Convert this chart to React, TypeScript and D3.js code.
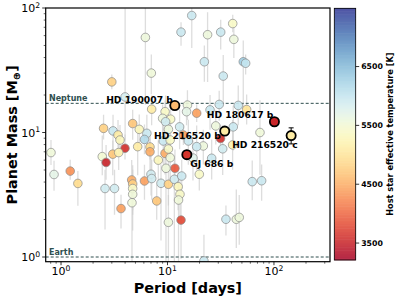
import React from "react";
import * as d3 from "d3";

// orbital period [days], minimum mass [M_earth], host Teff [K]
const period = [16.9, 13.4, 6.2, 23.8, 31.6, 41, 42, 22.2, 51.5, 54.2, 33.4, 7.05, 3.0, 4.0, 7.1, 9.5, 9.0, 10.7, 9.6, 15.4, 15.1, 18.8, 25.1, 30.6, 46.2, 55.4, 31.5, 73.9, 28.4, 41.5, 14.1, 15.7, 21.7, 33.0, 40.9, 13.0, 10.2, 6.4, 6.85, 18.8, 2.51, 4.71, 3.08, 3.43, 5.43, 3.58, 6.08, 3.99, 0.805, 0.86, 1.22, 1.44, 2.44, 2.65, 3.06, 3.48, 5.25, 2.59, 3.18, 4.61, 4.71, 4.71, 4.71, 4.64, 3.66, 6.08, 6.85, 8.2, 9.48, 10.2, 10.6, 11.75, 9.68, 7.0, 7.11, 8.69, 10.2, 11.6, 13.6, 12.6, 13.1, 12.7, 7.92, 19.9, 26.0, 17.35, 62.5, 76.6, 35.4, 44.3, 47.2, 22.0, 10.2, 13.4, 9.13, 10.6];
const mass = [87, 64, 58, 61, 64, 75, 56, 37, 37, 36, 28.4, 30, 25.5, 19.3, 15.4, 14.7, 13.0, 12.8, 12.2, 16.6, 14.7, 14.3, 15.2, 16.8, 16.5, 15.3, 8.95, 10.0, 11.3, 11.1, 9.55, 8.55, 7.8, 7.4, 7.95, 11.1, 10.6, 9.85, 7.65, 7.7, 10.8, 11.8, 10.3, 9.55, 10.6, 8.7, 8.8, 7.47, 6.9, 4.6, 4.9, 3.9, 6.4, 5.75, 6.7, 6.9, 7.7, 3.55, 3.55, 4.16, 3.86, 3.55, 3.19, 2.73, 2.45, 4.08, 7.0, 6.0, 6.8, 7.37, 6.28, 5.16, 5.16, 4.62, 4.27, 3.91, 3.84, 4.21, 4.47, 3.67, 3.19, 2.87, 2.82, 4.62, 6.21, 6.24, 4.03, 4.10, 2.01, 2.01, 2.08, 0.93, 1.90, 1.98, 8.55, 8.71];
const teff = [5950, 5950, 5580, 5580, 5950, 5400, 5580, 5950, 6300, 6000, 5950, 5550, 4800, 5850, 5100, 5400, 5580, 5400, 5900, 5580, 5700, 4400, 5950, 5950, 5950, 5000, 3600, 5550, 5580, 5950, 4400, 5950, 5580, 5900, 5200, 5900, 5580, 5950, 4900, 5950, 4800, 4700, 5950, 5100, 5300, 5300, 6150, 3600, 5550, 5700, 4300, 4900, 5500, 3500, 4700, 5200, 5100, 5900, 5900, 4500, 4800, 5400, 5550, 5550, 4400, 4400, 4500, 5300, 4500, 5400, 5550, 3900, 5580, 5900, 5900, 5900, 4800, 5900, 5950, 5300, 5400, 5550, 4700, 5400, 5950, 5750, 5950, 5950, 5950, 5580, 5580, 5950, 5580, 3800, 5950, 5400];
// mass uncertainties in dex (upper / lower)
const errUpDex = [0.06, 0.08, 0.24, 0.18, 0.10, 0.07, 0.11, 0.13, 0.17, 0.07, 0.17, 0.15, 0.06, 0.71, 0.11, 0.09, 0.11, 0.16, 0.21, 0.12, 0.09, 0.07, 0.12, 0.11, 0.16, 0.12, 0.11, 0.26, 0.13, 0.17, 0.08, 0.17, 0.13, 0.19, 0.20, 0.14, 0.16, 0.15, 0.10, 0.17, 0.11, 0.11, 0.13, 0.12, 0.12, 0.12, 0.12, 0.11, 0.10, 0.11, 0.09, 0.10, 0.17, 0.14, 0.11, 0.14, 0.17, 0.15, 0.15, 0.16, 0.15, 0.15, 0.11, 0.18, 0.11, 0.13, 0.13, 0.16, 0.15, 0.15, 0.14, 0.15, 0.19, 0.16, 0.15, 0.15, 0.16, 0.16, 0.13, 0.13, 0.16, 0.16, 0.13, 0.11, 0.15, 0.14, 0.17, 0.13, 0.11, 0.24, 0.18, 0.21, 0.22, 0.16, 0.17, 0.16];
const errDownDex = [0.26, 0.11, 0.54, 0.38, 0.14, 0.07, 0.15, 0.16, 0.39, 0.09, 0.23, 0.17, 0.06, 0.35, 0.13, 0.11, 0.13, 0.17, 0.23, 0.12, 0.11, 0.07, 0.16, 0.13, 0.16, 0.12, 0.09, 0.34, 0.15, 0.19, 0.08, 0.19, 0.15, 0.21, 0.20, 0.18, 0.17, 0.17, 0.10, 0.19, 0.09, 0.13, 0.15, 0.12, 0.12, 0.12, 0.12, 0.09, 0.10, 0.13, 0.07, 0.18, 0.15, 0.14, 0.17, 0.14, 0.23, 0.33, 0.21, 0.16, 0.21, 0.21, 0.29, 0.48, 0.16, 0.15, 0.19, 0.20, 0.17, 0.17, 0.18, 0.17, 0.75, 0.17, 0.17, 0.46, 0.17, 0.66, 0.19, 0.19, 0.17, 0.50, 0.15, 0.13, 0.17, 0.18, 0.15, 0.16, 0.13, 0.23, 0.22, 0.10, 0.32, 0.31, 0.19, 0.16];

// highlighted planets
const hlNames = ["HD 190007 b", "HD 180617 b", "HD 216520 b", "HD 216520 c", "GJ 686 b"];
const hlPeriod = [11.72, 101, 34.5, 145, 15.2];
const hlMass = [16.46, 12.2, 10.26, 9.44, 6.64];
const hlMassLo = [15.7, 11.6, 9.8, 8.1, 6.5];
const hlMassHi = [17.2, 12.8, 10.7, 10.9, 6.8];
const hlTeff = [4610, 3530, 5100, 5100, 3660];

const refNames = ["Neptune", "Earth"];
const refMass = [17.15, 1];

const axisTicks = [1, 10, 100];
const axisTickExp = ["0", "1", "2"];
const cbTicks = [3500, 4500, 5500, 6500];

const W = 399, H = 299;
const left = 45.7, right = 330, top = 8, bottom = 261.7;
const tMin = 3212, tMax = 7490;
const cbX = 334.3, cbW = 21.4, cbTop = 8.3, cbBot = 260;
const font = "DejaVu Sans, sans-serif";
const refColor = "#2f4f4f";

// label placement relative to the marker: [dx, dy, anchor]
const labelOffsets: [number, number, string][] = [
  [-2, -3, "end"],
  [-1, -4, "end"],
  [-4, 7.5, "end"],
  [6.5, 12.6, "end"],
  [3.3, 12, "start"],
];

function minorTicks(domain: number[]) {
  const out: number[] = [];
  for (let e = -1; e <= 2; e++) {
    for (let k = 2; k <= 9; k++) {
      const v = k * Math.pow(10, e);
      if (v >= domain[0] && v <= domain[1]) out.push(v);
    }
  }
  return out;
}

export default function App() {
  const x = d3.scaleLog().domain([0.718, 336]).range([left, right]);
  const y = d3.scaleLog().domain([0.917, 100]).range([bottom, top]);
  const color = (t: number) => d3.interpolateRdYlBu((t - tMin) / (tMax - tMin));
  const cy = d3.scaleLinear().domain([tMin, tMax]).range([cbBot, cbTop]);
  const stripes = d3.range(tMin, tMax, (tMax - tMin) / 160);
  const stripeH = (cbBot - cbTop) / 160;

  return (
    <svg width={W} height={H} style={{ position: "absolute", left: 0, top: 0, background: "#fff" }} fontFamily={font}>
      <defs>
        <clipPath id="plot">
          <rect x={left} y={top} width={right - left} height={bottom - top} />
        </clipPath>
      </defs>

      <g clipPath="url(#plot)">
        {period.map((p, i) => (
          <line key={"e" + i} x1={x(p)} x2={x(p)}
            y1={y(mass[i] * Math.pow(10, errUpDex[i]))} y2={y(mass[i] / Math.pow(10, errDownDex[i]))}
            stroke="#cfcfcf" strokeOpacity={0.7} strokeWidth={1.3} />
        ))}
        {refNames.map((n, i) => (
          <line key={n} x1={left} x2={right} y1={y(refMass[i])} y2={y(refMass[i])}
            stroke={refColor} strokeWidth={1} strokeDasharray="3,2" />
        ))}
        {period.map((p, i) => (
          <circle key={"p" + i} cx={x(p)} cy={y(mass[i])} r={4.3} fill={color(teff[i])}
            fillOpacity={0.9} stroke="#8a8a8a" strokeWidth={0.7} />
        ))}
        {hlNames.map((n, i) => (
          <g key={n}>
            <line x1={x(hlPeriod[i])} x2={x(hlPeriod[i])} y1={y(hlMassHi[i])} y2={y(hlMassLo[i])} stroke="#000" strokeWidth={1} />
            <line x1={x(hlPeriod[i]) - 2.5} x2={x(hlPeriod[i]) + 2.5} y1={y(hlMassHi[i])} y2={y(hlMassHi[i])} stroke="#000" strokeWidth={1} />
            <line x1={x(hlPeriod[i]) - 2.5} x2={x(hlPeriod[i]) + 2.5} y1={y(hlMassLo[i])} y2={y(hlMassLo[i])} stroke="#000" strokeWidth={1} />
            <circle cx={x(hlPeriod[i])} cy={y(hlMass[i])} r={4.6} fill={color(hlTeff[i])} stroke="#000" strokeWidth={1.8} />
          </g>
        ))}
      </g>

      {refNames.map((n, i) => (
        <text key={"t" + n} x={49} y={y(refMass[i]) - 2} fontSize={8} fontWeight="bold" fill={refColor}>{n}</text>
      ))}
      {hlNames.map((n, i) => (
        <text key={"l" + n} x={x(hlPeriod[i]) + labelOffsets[i][0]} y={y(hlMass[i]) + labelOffsets[i][1]}
          textAnchor={labelOffsets[i][2] as any} fontSize={9.2} fontWeight="bold" fill="#000">{n}</text>
      ))}

      {/* frame */}
      <rect x={left} y={top} width={right - left} height={bottom - top} fill="none" stroke="#000" strokeWidth={1.2} />

      {/* x ticks */}
      {axisTicks.map((v, i) => (
        <g key={"xt" + v}>
          <line x1={x(v)} x2={x(v)} y1={bottom} y2={bottom + 3.5} stroke="#000" strokeWidth={0.8} />
          <text x={x(v)} y={bottom + 13.5} textAnchor="middle" fontSize={11} fill="#000">
            10<tspan fontSize={7.7} dy={-4.5}>{axisTickExp[i]}</tspan>
          </text>
        </g>
      ))}
      {minorTicks(x.domain()).map(v => (
        <line key={"xm" + v} x1={x(v)} x2={x(v)} y1={bottom} y2={bottom + 2} stroke="#000" strokeWidth={0.6} />
      ))}
      {/* y ticks */}
      {axisTicks.map((v, i) => (
        <g key={"yt" + v}>
          <line x1={left - 3.5} x2={left} y1={y(v)} y2={y(v)} stroke="#000" strokeWidth={0.8} />
          <text x={left - 5.5} y={y(v) + 4} textAnchor="end" fontSize={11} fill="#000">
            10<tspan fontSize={7.7} dy={-4.5}>{axisTickExp[i]}</tspan>
          </text>
        </g>
      ))}
      {minorTicks(y.domain()).map(v => (
        <line key={"ym" + v} x1={left - 2} x2={left} y1={y(v)} y2={y(v)} stroke="#000" strokeWidth={0.6} />
      ))}

      <text x={(left + right) / 2} y={293} textAnchor="middle" fontSize={14.4} fontWeight="bold" fill="#000">Period [days]</text>
      <text transform={`translate(17,${(top + bottom) / 2}) rotate(-90)`} textAnchor="middle" fontSize={14.4} fontWeight="bold" fill="#000">
        Planet Mass [M<tspan fontSize={10} dy={3}>⊕</tspan><tspan dy={-3}>]</tspan>
      </text>

      {/* colorbar */}
      <g opacity={0.85}>
        {stripes.map(t => (
          <rect key={"cb" + t} x={cbX} y={cy(t) - stripeH - 0.3} width={cbW} height={stripeH + 0.6} fill={color(t + (tMax - tMin) / 320)} />
        ))}
      </g>
      <rect x={cbX} y={cbTop} width={cbW} height={cbBot - cbTop} fill="none" stroke="#000" strokeWidth={0.8} />
      {cbTicks.map(t => (
        <g key={"ct" + t}>
          <line x1={cbX + cbW} x2={cbX + cbW + 3.5} y1={cy(t)} y2={cy(t)} stroke="#000" strokeWidth={0.8} />
          <text x={cbX + cbW + 5.5} y={cy(t) + 2.8} fontSize={7.8} fontWeight="bold" fill="#000">{t}</text>
        </g>
      ))}
      <text transform={`translate(393,${(cbTop + cbBot) / 2}) rotate(-90)`} textAnchor="middle" fontSize={8.2} fontWeight="bold" fill="#000">
        Host star effective temperature [K]
      </text>
    </svg>
  );
}
